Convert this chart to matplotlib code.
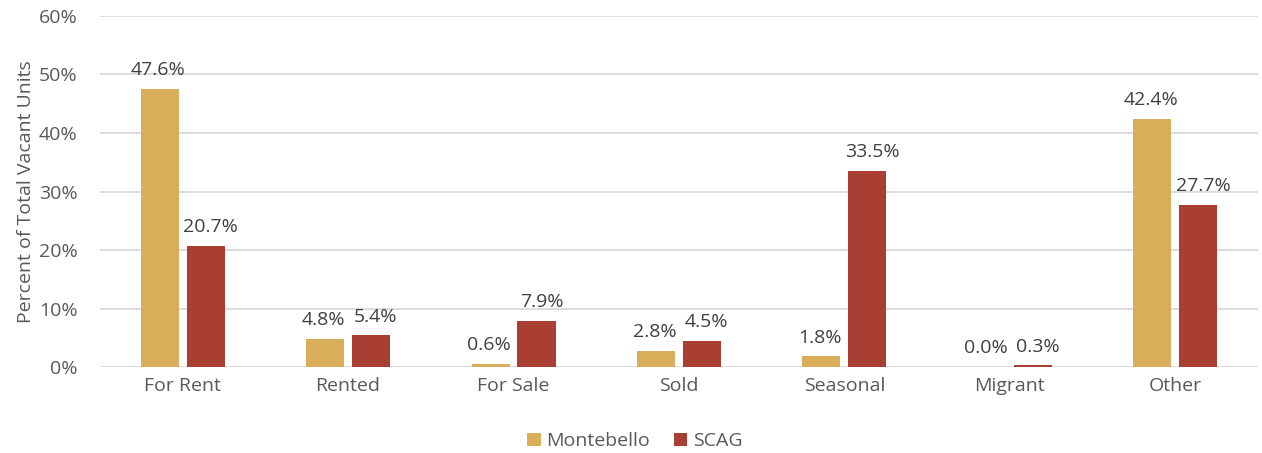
import matplotlib
matplotlib.use("Agg")
import matplotlib.pyplot as plt
import numpy as np

categories = ["For Rent", "Rented", "For Sale", "Sold", "Seasonal", "Migrant", "Other"]
montebello = [47.6, 4.8, 0.6, 2.8, 1.8, 0.0, 42.4]
scag = [20.7, 5.4, 7.9, 4.5, 33.5, 0.3, 27.7]
series_names = ["Montebello", "SCAG"]
yticks = [0, 10, 20, 30, 40, 50, 60]

plt.rcParams['font.family'] = ['Open Sans', 'DejaVu Sans']
txt = '#595959'
fs = 14

fig = plt.figure(figsize=(12.62, 4.53), dpi=100)
ax = fig.add_axes([0.0792, 0.1898, 0.9176, 0.7749])

x = np.arange(len(categories))
w = 0.23
off = 0.139
ax.bar(x - off, montebello, w, color='#D9AE5A', label=series_names[0], zorder=3)
ax.bar(x + off, scag, w, color='#A93E32', label=series_names[1], zorder=3)

for xs, vals, dx in ((x - off, montebello, -1), (x + off, scag, 3.5)):
    for xi, v in zip(xs, vals):
        ax.annotate(f"{v:.1f}%", (xi, v), xytext=(dx, 7), textcoords='offset points',
                    ha='center', va='bottom', fontsize=14, color='#404040')

ax.set_xlim(-0.5, len(categories) - 0.5)
ax.set_ylim(0, 60)
ax.set_yticks(yticks)
ax.set_yticklabels([f"{t}%" for t in yticks], fontsize=fs, color=txt)
ax.set_xticks(x)
ax.set_xticklabels(categories, fontsize=fs, color=txt)
ax.tick_params(axis='both', length=0)
ax.tick_params(axis='y', pad=16)
ax.tick_params(axis='x', pad=7)
ax.grid(axis='y', color='#D9D9D9', linewidth=1.3, zorder=0)
for s in ax.spines.values():
    s.set_visible(False)
ax.set_ylabel("Percent of Total Vacant Units", fontsize=fs, color=txt, labelpad=3)

leg = fig.legend(*ax.get_legend_handles_labels(), loc='center', bbox_to_anchor=(0.503, 0.026),
                 ncol=2, frameon=False, fontsize=fs, handlelength=0.7, handleheight=0.7,
                 handletextpad=0.3, columnspacing=1.2)
for t in leg.get_texts():
    t.set_color(txt)

fig.savefig("out.png", dpi=100)
